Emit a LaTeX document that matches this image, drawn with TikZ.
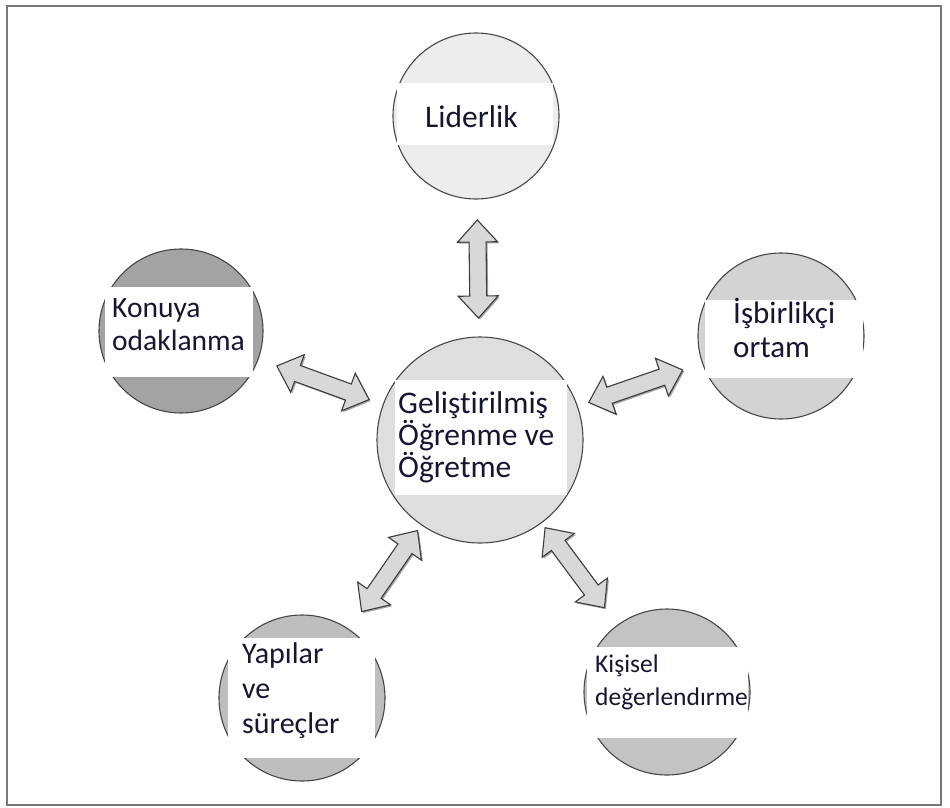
\documentclass[tikz,border=0pt]{standalone}
\usepackage{fontspec}
\setmainfont{Carlito}[Ligatures=NoCommon]
\usetikzlibrary{calc}

\definecolor{framecol}{RGB}{120,120,120}
\definecolor{ringcol}{RGB}{70,70,70}
\definecolor{inkcol}{RGB}{22,22,48}
\definecolor{arrowfill}{RGB}{216,216,216}
\definecolor{arrowedge}{RGB}{60,60,60}
\definecolor{fillLid}{RGB}{236,236,236}
\definecolor{fillKon}{RGB}{163,163,163}
\definecolor{fillIsb}{RGB}{211,211,211}
\definecolor{fillCen}{RGB}{222,222,222}
\definecolor{fillYap}{RGB}{190,190,190}
\definecolor{fillKis}{RGB}{195,195,195}

% double-headed block arrow between two named points
\newcommand\dblarrow[2]{%
  \path let \p1=($(#2)-(#1)$) in
    \pgfextra{\pgfmathsetmacro\tmpang{atan2(\y1,\x1)}%
              \pgfmathsetmacro\tmplen{veclen(\x1,\y1)}%
              \xdef\arrang{\tmpang}\xdef\arrlen{\tmplen}};
  \begin{scope}[shift={(#1)}, xshift=1.5pt, yshift=-1.5pt, rotate=\arrang]
    \fill[black!35] (0pt,0pt) -- (22pt,20pt) -- (22pt,8.5pt)
      -- ({(\arrlen-22)*1pt},8.5pt) -- ({(\arrlen-22)*1pt},20pt)
      -- ({\arrlen*1pt},0pt) -- ({(\arrlen-22)*1pt},-20pt)
      -- ({(\arrlen-22)*1pt},-8.5pt) -- (22pt,-8.5pt) -- (22pt,-20pt) -- cycle;
  \end{scope}
  \begin{scope}[shift={(#1)}, rotate=\arrang]
    \draw[blockarrow] (0pt,0pt) -- (22pt,20pt) -- (22pt,8.5pt)
      -- ({(\arrlen-22)*1pt},8.5pt) -- ({(\arrlen-22)*1pt},20pt)
      -- ({\arrlen*1pt},0pt) -- ({(\arrlen-22)*1pt},-20pt)
      -- ({(\arrlen-22)*1pt},-8.5pt) -- (22pt,-8.5pt) -- (22pt,-20pt) -- cycle;
  \end{scope}}

\begin{document}
\begin{tikzpicture}[x=1pt, y=-1pt,
  bubble/.style={circle, draw=ringcol, line width=1.1pt, inner sep=0pt},
  band/.style={fill=white},
  % captions are placed by the baseline of their last line
  caption/.style={anchor=base west, inner sep=0pt, align=left, text=inkcol,
    font=\fontsize{31}{33}\selectfont},
  smallcaption/.style={caption, font=\fontsize{25.5}{33}\selectfont},
  blockarrow/.style={fill=arrowfill, draw=arrowedge, line width=1.1pt, line join=miter}]

\useasboundingbox (0,0) rectangle (950,808);
\draw[framecol, line width=2pt] (7,6) rectangle (941,805);

% centre circle
\node[bubble, fill=fillCen, minimum size=206pt] (cen) at (480,440) {};
\fill[band] (395,380) rectangle (567,495);
\node[caption, font=\fontsize{31.5}{32}\selectfont] (tCen) at (398,477)
  {Geliştirilmiş\\Öğrenme ve\\Öğretme};

% Liderlik
\node[bubble, fill=fillLid, minimum size=166pt] (lid) at (476,116) {};
\fill[band] (397,83) rectangle (553,145);
\node[caption, font=\fontsize{31.5}{33}\selectfont] (tLid) at (425,127) {Liderlik};

% Konuya odaklanma
\node[bubble, fill=fillKon, minimum size=164pt] (kon) at (181,331) {};
\fill[band] (105,287) rectangle (253,377);
\node[caption, font=\fontsize{29.5}{33}\selectfont] (tKon) at (112,350)
  {Konuya\\odaklanma};

% İşbirlikçi ortam
\node[bubble, fill=fillIsb, minimum size=166pt] (isb) at (781,336) {};
\fill[band] (705,300) rectangle (863,378);
\node[caption, font=\fontsize{31}{34}\selectfont] (tIsb) at (733,357)
  {İşbirlikçi\\ortam};

% Yapılar ve süreçler
\node[bubble, fill=fillYap, minimum size=166pt] (yap) at (302,698) {};
\fill[band] (228,638) rectangle (375,758);
\node[caption, font=\fontsize{30}{35}\selectfont] (tYap) at (242,733)
  {Yapılar\\ve\\süreçler};

% Kişisel değerlendirme
\node[bubble, fill=fillKis, minimum size=166pt] (kis) at (667,692) {};
\fill[band] (587,647) rectangle (748,738);
\node[smallcaption] (tKis) at (595,705) {Kişisel\\değerlendırme};

% arrow end points
\coordinate (a1o) at ($(lid)!104pt!(cen)$);
\coordinate (a1i) at ($(cen)!122pt!(lid)$);
\coordinate (a2o) at ($(kon)!102pt!(cen)$);
\coordinate (a2i) at ($(cen)!118pt!(kon)$);
\coordinate (a3o) at ($(isb)!104pt!(cen)$);
\coordinate (a3i) at ($(cen)!115pt!(isb)$);
\coordinate (a4o) at ($(yap)!105pt!(cen)$);
\coordinate (a4i) at ($(cen)!110pt!(yap)$);
\coordinate (a5o) at ($(kis)!105pt!(cen)$);
\coordinate (a5i) at ($(cen)!109pt!(kis)$);

\dblarrow{a1o}{a1i}
\dblarrow{a2o}{a2i}
\dblarrow{a3o}{a3i}
\dblarrow{a4o}{a4i}
\dblarrow{a5o}{a5i}
\end{tikzpicture}
\end{document}
